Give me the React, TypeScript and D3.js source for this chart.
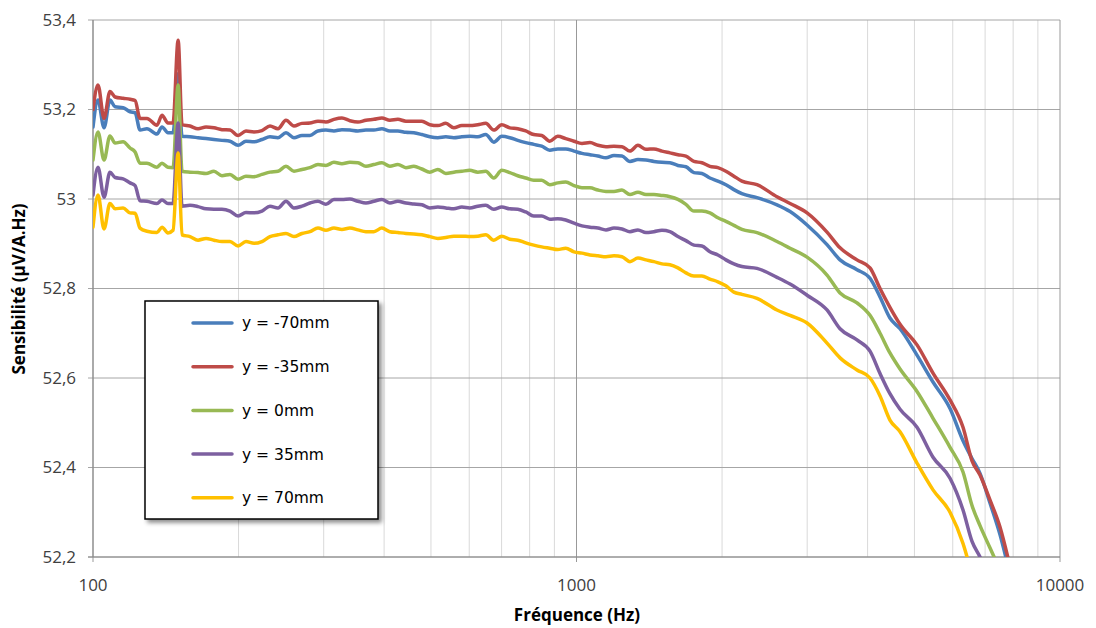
import React from "react";
import * as d3 from "d3";

const freqs = [
  100, 102.4, 105.4, 108.4, 111.1, 115.4, 119.3, 122.2, 125.1, 129.3, 135.6, 138.9, 142.9, 146.4, 150,
  152.8, 158.7, 164.9, 171.3, 177.9, 184.8, 192.0, 199.5, 207.2, 215.3, 223.6, 232.3, 241.3, 250.7, 260.4, 270.5, 281.0, 291.9, 303.2, 315.0, 327.2, 339.9, 353.1, 366.8, 381.0,
  395.8, 411.2, 427.1, 443.7, 460.9, 478.8, 497.4, 516.7, 536.7, 557.5, 579.2, 601.6, 625.0, 649.2, 674.4, 700.6, 727.8, 756.0, 785.3, 815.8, 847.4, 880.3, 914.5,
  950.0, 988.2, 1026.5, 1066.4, 1107.7, 1150.7, 1195.4, 1241.8, 1289.9, 1340.0, 1392.0, 1446.0, 1502.1, 1560.4, 1621.0, 1683.8, 1749.2, 1817.0, 1887.6, 1960.8, 2036.9, 2116.0, 2198.1,
  2362, 2598, 2765, 2998, 3297, 3508, 3803, 4046, 4244, 4449, 4668, 5061, 5462, 5923, 6301, 6577, 6832, 7167, 7514, 7806,
];

const yM70 = [
  53.161, 53.221, 53.159, 53.221, 53.206, 53.204, 53.195, 53.193, 53.154, 53.157, 53.145, 53.161, 53.148, 53.148, 53.28,
  53.14, 53.139, 53.137, 53.135, 53.133, 53.131, 53.129, 53.12, 53.129, 53.128, 53.133, 53.139, 53.137, 53.148, 53.137, 53.142, 53.142, 53.152, 53.154, 53.152, 53.155, 53.154, 53.152, 53.154, 53.154,
  53.157, 53.152, 53.152, 53.149, 53.148, 53.144, 53.139, 53.137, 53.139, 53.137, 53.139, 53.14, 53.139, 53.144, 53.127, 53.14, 53.137, 53.131, 53.126, 53.122, 53.118, 53.109, 53.112,
  53.112, 53.107, 53.102, 53.099, 53.096, 53.092, 53.097, 53.096, 53.084, 53.088, 53.087, 53.084, 53.082, 53.081, 53.075, 53.072, 53.059, 53.057, 53.047, 53.04, 53.032, 53.021, 53.012,
  53.003, 52.987, 52.972, 52.942, 52.898, 52.864, 52.842, 52.823, 52.781, 52.734, 52.71, 52.651, 52.591, 52.532, 52.46, 52.42, 52.387, 52.32, 52.25, 52.18,
];
const yM35 = [
  53.2, 53.255, 53.18, 53.24, 53.228, 53.225, 53.223, 53.22, 53.18, 53.18, 53.165, 53.187, 53.17, 53.17, 53.355,
  53.166, 53.163, 53.157, 53.161, 53.159, 53.155, 53.154, 53.142, 53.152, 53.15, 53.153, 53.163, 53.157, 53.176, 53.163, 53.169, 53.17, 53.174, 53.172, 53.178, 53.181, 53.175, 53.172, 53.176, 53.178,
  53.181, 53.176, 53.178, 53.174, 53.174, 53.174, 53.166, 53.164, 53.169, 53.159, 53.164, 53.164, 53.166, 53.169, 53.154, 53.166, 53.159, 53.157, 53.152, 53.144, 53.142, 53.129, 53.14,
  53.135, 53.129, 53.124, 53.126, 53.12, 53.117, 53.118, 53.117, 53.107, 53.12, 53.111, 53.112, 53.107, 53.103, 53.099, 53.096, 53.084, 53.081, 53.073, 53.07, 53.062, 53.051, 53.04,
  53.032, 53.005, 52.99, 52.969, 52.926, 52.891, 52.864, 52.846, 52.8, 52.758, 52.72, 52.674, 52.611, 52.551, 52.49, 52.415, 52.383, 52.327, 52.267, 52.198,
];
const y0 = [
  53.087, 53.15, 53.087, 53.141, 53.125, 53.128, 53.114, 53.105, 53.08, 53.08, 53.071, 53.08, 53.071, 53.07, 53.255,
  53.062, 53.06, 53.059, 53.057, 53.062, 53.052, 53.055, 53.044, 53.051, 53.05, 53.055, 53.06, 53.062, 53.073, 53.062, 53.066, 53.07, 53.077, 53.075, 53.082, 53.079, 53.082, 53.081, 53.073, 53.077,
  53.081, 53.073, 53.077, 53.07, 53.073, 53.067, 53.06, 53.066, 53.057, 53.06, 53.062, 53.064, 53.06, 53.062, 53.047, 53.064, 53.059, 53.052, 53.047, 53.042, 53.042, 53.032, 53.036,
  53.038, 53.03, 53.025, 53.025, 53.02, 53.017, 53.017, 53.02, 53.01, 53.015, 53.01, 53.01, 53.008, 53.005, 52.999, 52.988, 52.973, 52.973, 52.969, 52.958, 52.95, 52.941, 52.932,
  52.925, 52.905, 52.89, 52.87, 52.83, 52.79, 52.768, 52.74, 52.7, 52.656, 52.62, 52.57, 52.51, 52.445, 52.39, 52.315, 52.27, 52.22, 52.17, 52.12,
];
const yP35 = [
  53.009, 53.071, 53.004, 53.06, 53.048, 53.045, 53.036, 53.03, 52.996, 52.995, 52.99, 52.998, 52.99, 52.99, 53.17,
  52.984, 52.986, 52.983, 52.978, 52.977, 52.977, 52.973, 52.962, 52.97, 52.969, 52.973, 52.984, 52.98, 52.995, 52.98, 52.984, 52.991, 52.995, 52.988, 52.999, 52.999, 53.0, 52.995, 52.991, 52.995,
  52.999, 52.991, 52.995, 52.991, 52.989, 52.987, 52.98, 52.982, 52.98, 52.978, 52.982, 52.98, 52.984, 52.986, 52.977, 52.982, 52.978, 52.977, 52.971, 52.962, 52.962, 52.955, 52.956,
  52.953, 52.946, 52.94, 52.937, 52.935, 52.931, 52.935, 52.933, 52.927, 52.931, 52.925, 52.927, 52.93, 52.927, 52.916, 52.907, 52.897, 52.895, 52.882, 52.875, 52.864, 52.855, 52.849,
  52.845, 52.825, 52.81, 52.785, 52.752, 52.71, 52.685, 52.66, 52.61, 52.565, 52.53, 52.49, 52.423, 52.376, 52.305, 52.235, 52.2, 52.15, null, null,
];
const yP70 = [
  52.937, 53.009, 52.933, 52.99, 52.978, 52.98, 52.969, 52.968, 52.935, 52.928, 52.925, 52.937, 52.924, 52.93, 53.103,
  52.92, 52.916, 52.908, 52.912, 52.908, 52.905, 52.905, 52.895, 52.905, 52.901, 52.905, 52.916, 52.92, 52.923, 52.916, 52.923, 52.927, 52.935, 52.93, 52.935, 52.932, 52.935, 52.931, 52.927, 52.927,
  52.935, 52.927, 52.925, 52.923, 52.922, 52.92, 52.916, 52.912, 52.914, 52.917, 52.917, 52.916, 52.917, 52.92, 52.908, 52.917, 52.91, 52.908, 52.902, 52.897, 52.893, 52.89, 52.887,
  52.89, 52.882, 52.879, 52.875, 52.873, 52.871, 52.873, 52.871, 52.86, 52.868, 52.864, 52.86, 52.855, 52.853, 52.846, 52.835, 52.828, 52.828, 52.821, 52.815, 52.806, 52.792, 52.787,
  52.778, 52.752, 52.74, 52.723, 52.678, 52.645, 52.618, 52.6, 52.56, 52.506, 52.48, 52.41, 52.35, 52.3, 52.23, 52.16, null, null, null, null,
];

const seriesNames = ["y = -70mm", "y = -35mm", "y = 0mm", "y = 35mm", "y = 70mm"];
const seriesValues = [yM70, yM35, y0, yP35, yP70];
const seriesColors = ["#4A7EBB", "#BE4B48", "#98B954", "#7D60A0", "#FFC000"];
const yTicks = [52.2, 52.4, 52.6, 52.8, 53.0, 53.2, 53.4];
const yTickLabels = ["52,2", "52,4", "52,6", "52,8", "53", "53,2", "53,4"];
const xMajor = [100, 1000, 10000];
const xMajorLabels = ["100", "1000", "10000"];
const xMinor = [200, 300, 400, 500, 600, 700, 800, 900, 2000, 3000, 4000, 5000, 6000, 7000, 8000, 9000];

export default function App() {
  const W = 1096, H = 628;
  const left = 93, right = 1060, top = 20, bottom = 557;
  const x = d3.scaleLog().domain([100, 10000]).range([left, right]);
  const y = d3.scaleLinear().domain([52.2, 53.4]).range([bottom, top]);
  const line = d3
    .line<[number, number | null]>()
    .defined((d) => d[1] !== null)
    .x((d) => x(d[0]))
    .y((d) => y(d[1] as number))
    .curve(d3.curveMonotoneX);

  const font = "'Open Sans', sans-serif";
  const legendFont = "'DejaVu Sans', sans-serif";
  const lgX = 145, lgY = 301, lgW = 233, lgH = 218;

  return (
    <svg width={W} height={H} style={{ position: "absolute", left: 0, top: 0, background: "#fff" }}>
      <defs>
        <clipPath id="plotClip">
          <rect x={left} y={top - 10} width={right - left} height={bottom - top + 10} />
        </clipPath>
        <filter id="shadow" x="-10%" y="-10%" width="130%" height="130%">
          <feDropShadow dx="3" dy="3" stdDeviation="2" floodColor="#000" floodOpacity="0.45" />
        </filter>
      </defs>
      <rect x={0} y={0} width={W} height={H} fill="#fff" />
      {xMinor.map((v) => (
        <line key={"mn" + v} x1={x(v)} x2={x(v)} y1={top} y2={bottom} stroke="#d9d9d9" strokeWidth={1} />
      ))}
      {yTicks.map((v) => (
        <line key={"hg" + v} x1={left - 5} x2={right} y1={y(v)} y2={y(v)} stroke="#a6a6a6" strokeWidth={1} />
      ))}
      {xMajor.map((v) => (
        <line key={"mj" + v} x1={x(v)} x2={x(v)} y1={top} y2={bottom + 5} stroke="#999" strokeWidth={1} />
      ))}
      <line x1={left} x2={left} y1={top} y2={bottom} stroke="#888" strokeWidth={1} />
      <line x1={left - 5} x2={right} y1={bottom} y2={bottom} stroke="#888" strokeWidth={1} />

      <g clipPath="url(#plotClip)">
        {seriesValues.map((vals, i) => (
          <path
            key={seriesNames[i]}
            d={line(freqs.map((f, j) => [f, vals[j]] as [number, number | null])) || ""}
            fill="none"
            stroke={seriesColors[i]}
            strokeWidth={3.5}
            strokeLinejoin="round"
            strokeLinecap="round"
          />
        ))}
      </g>

      {yTicks.map((v, i) => (
        <text key={"yl" + v} x={76} y={y(v)} dy="0.35em" textAnchor="end" fontFamily={font} fontSize={17} fill="#404040">
          {yTickLabels[i]}
        </text>
      ))}
      {xMajor.map((v, i) => (
        <text key={"xl" + v} x={x(v)} y={591} textAnchor="middle" fontFamily={font} fontSize={17} fill="#404040">
          {xMajorLabels[i]}
        </text>
      ))}
      <text x={577} y={621} textAnchor="middle" fontFamily={font} fontWeight="bold" fontSize={17} fill="#000">
        Fréquence (Hz)
      </text>
      <text
        transform="translate(25,289) rotate(-90)"
        textAnchor="middle"
        fontFamily={font}
        fontWeight="bold"
        fontSize={17}
        fill="#000"
      >
        Sensibilité (µV/A.Hz)
      </text>

      <g>
        <rect x={lgX} y={lgY} width={lgW} height={lgH} fill="#fff" stroke="#000" strokeWidth={1.5} filter="url(#shadow)" />
        {seriesNames.map((n, i) => {
          const ry = 323 + i * 43.7;
          return (
            <g key={"lg" + n}>
              <line x1={193} x2={232} y1={ry} y2={ry} stroke={seriesColors[i]} strokeWidth={3.5} strokeLinecap="round" />
              <text x={242} y={ry} dy="0.35em" fontFamily={legendFont} fontSize={15.5} fill="#000">
                {n}
              </text>
            </g>
          );
        })}
      </g>
    </svg>
  );
}
